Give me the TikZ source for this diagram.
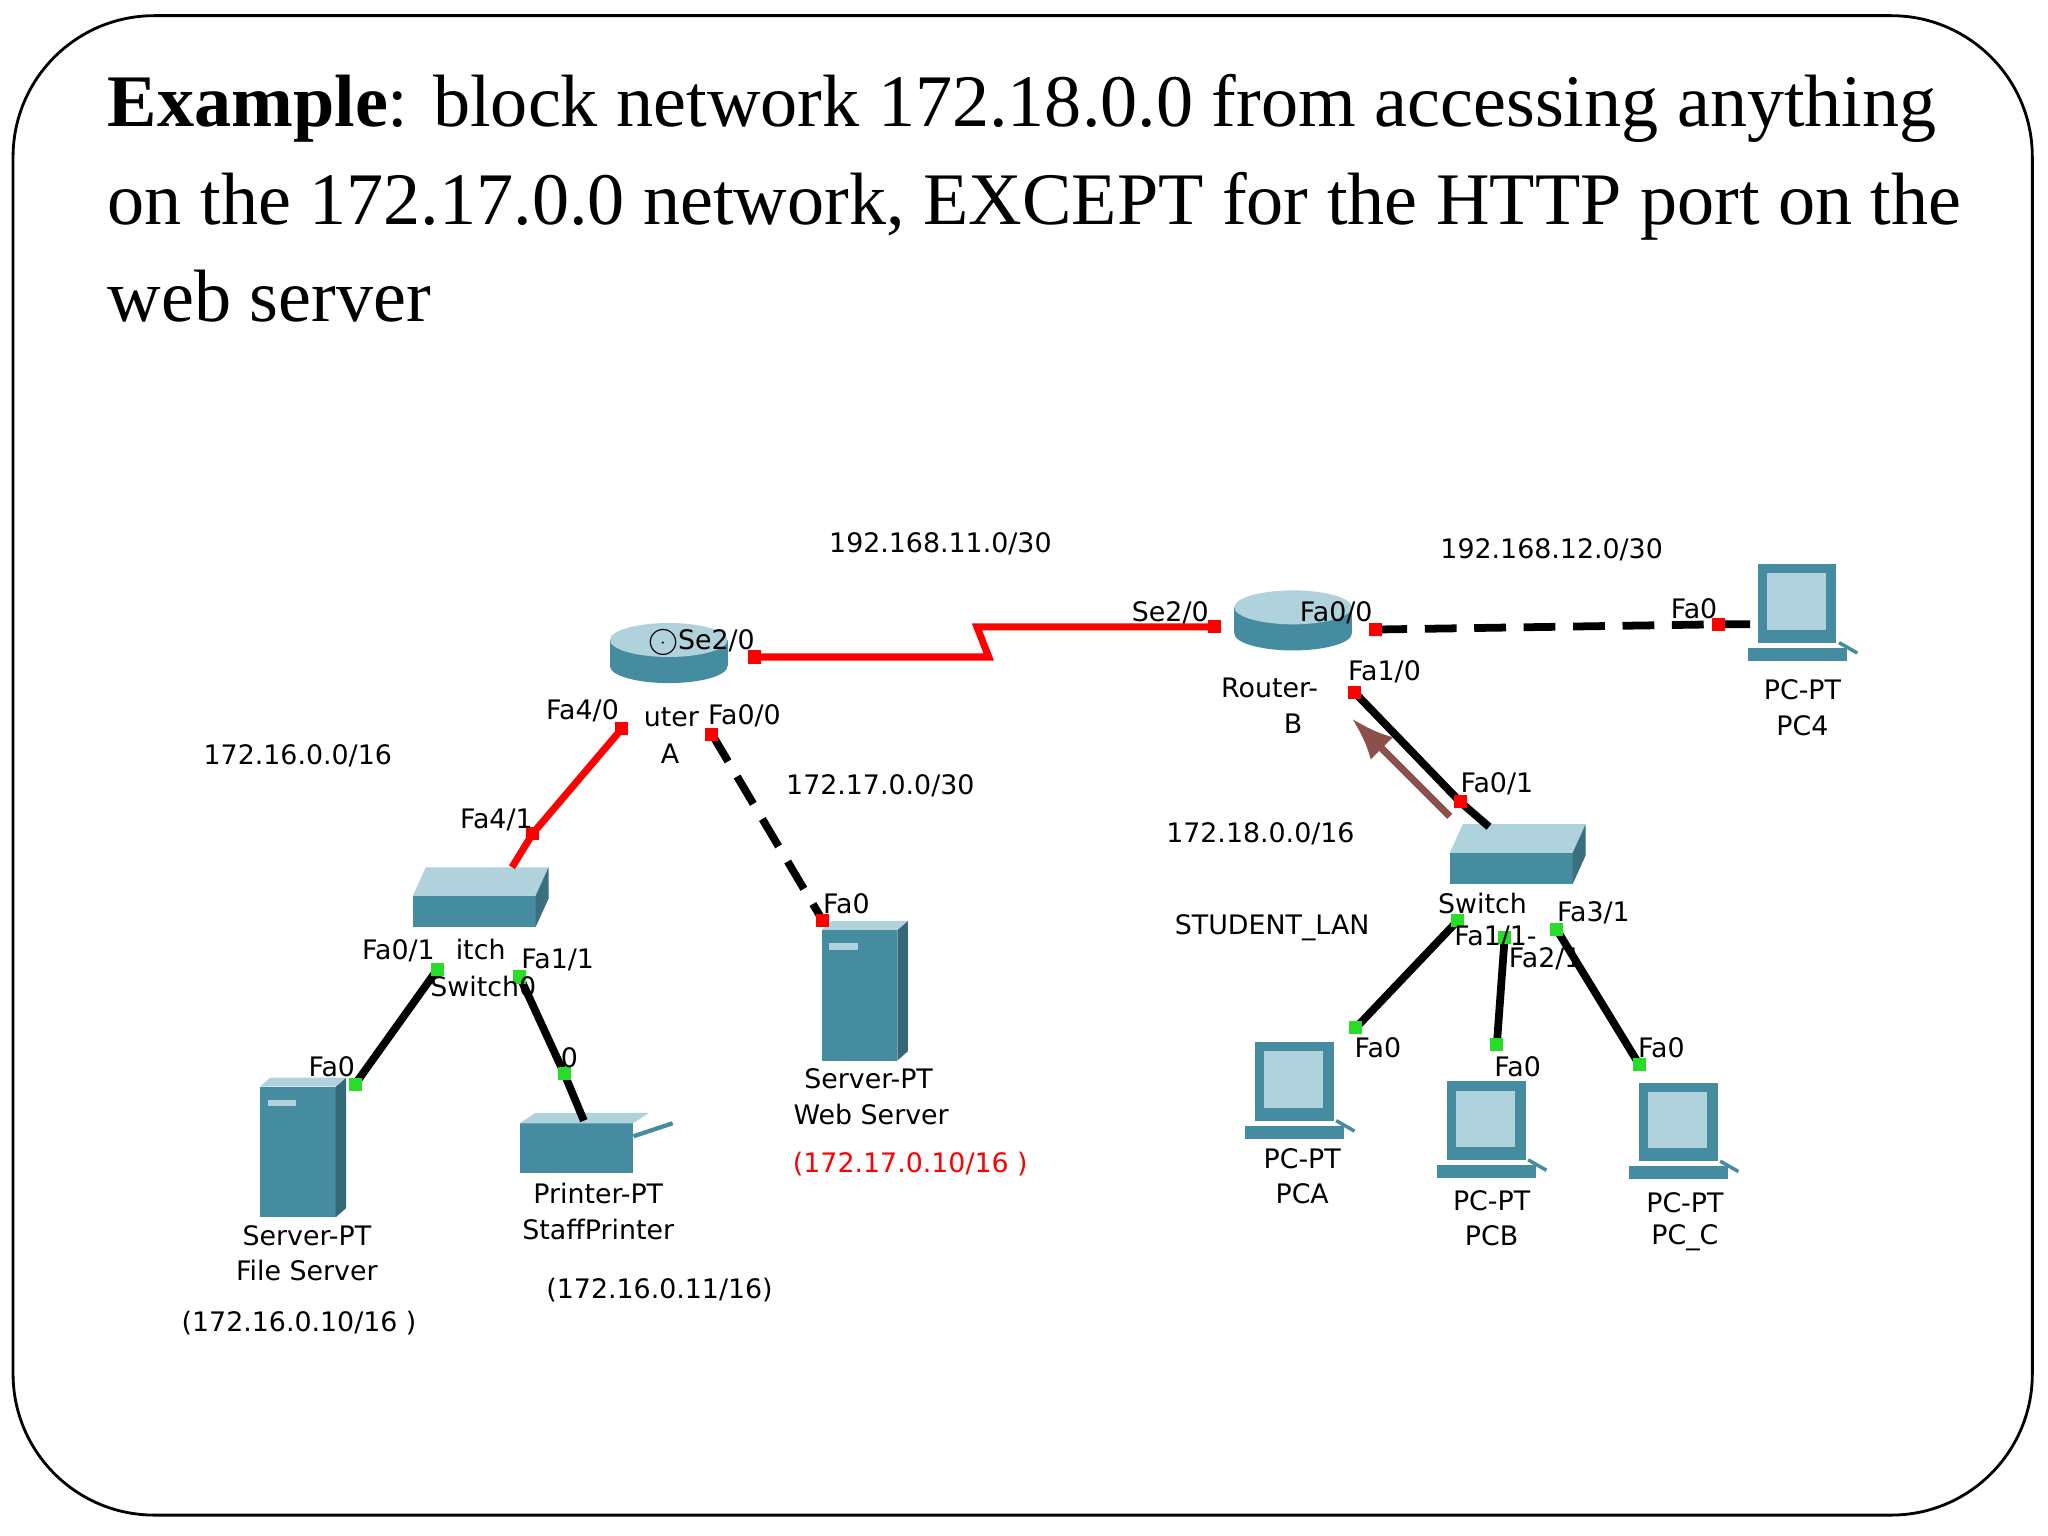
\documentclass[tikz,border=0pt]{standalone}
\usepackage{fontspec}
\setmainfont{Liberation Serif}
\newfontfamily\labfont{DejaVu Sans}
\usepackage{tikz}
\usetikzlibrary{arrows.meta,calc}

\definecolor{devteal}{RGB}{70,140,160}
\definecolor{devlight}{RGB}{175,210,220}
\definecolor{portgreen}{RGB}{40,220,40}
\definecolor{arrowbrown}{RGB}{140,80,75}

\tikzset{
  lab/.style={font=\labfont\fontsize{7.6}{9}\selectfont, inner sep=0pt},
  redlink/.style={red, line width=2pt},
  blklink/.style={black, line width=2.2pt},
  dashlink/.style={black, line width=2.2pt, dash pattern=on 9pt off 5pt},
  portred/.style={fill=red, draw=none},
  portgrn/.style={fill=portgreen, draw=none},
}

% icons
\newcommand{\routericon}[3]{% name, x, y
  \fill[devteal] (#2-45,#3) rectangle (#2+45,#3+20);
  \fill[devteal] (#2,#3+20) ellipse [x radius=45, y radius=13];
  \fill[devlight] (#2,#3) ellipse [x radius=45, y radius=13];
  \node[inner sep=0pt, minimum size=1pt] (#1) at (#2,#3+8) {};
}
\newcommand{\switchicon}[3]{%
  \fill[devlight] (#2-42,#3-22) -- (#2+52,#3-22) -- (#2+42,#3) -- (#2-52,#3) -- cycle;
  \fill[devteal] (#2-52,#3) rectangle (#2+42,#3+24);
  \fill[devteal!80!black] (#2+42,#3) -- (#2+52,#3-22) -- (#2+52,#3+2) -- (#2+42,#3+24) -- cycle;
  \node[inner sep=0pt] (#1) at (#2,#3) {};
}
\newcommand{\servericon}[3]{%
  \fill[devteal] (#2-33,#3-45) rectangle (#2+25,#3+55);
  \fill[devteal!75!black] (#2+25,#3-45) -- (#2+33,#3-52) -- (#2+33,#3+48) -- (#2+25,#3+55) -- cycle;
  \fill[devlight] (#2-33,#3-45) -- (#2-25,#3-52) -- (#2+33,#3-52) -- (#2+25,#3-45) -- cycle;
  \fill[devlight] (#2-27,#3-35) rectangle (#2-5,#3-30);
  \node[inner sep=0pt] (#1) at (#2,#3) {};
}
\newcommand{\pcicon}[3]{%
  \fill[devteal] (#2-32,#3-38) rectangle (#2+28,#3+22);
  \fill[devlight] (#2-25,#3-31) rectangle (#2+20,#3+12);
  \fill[devteal] (#2-40,#3+26) rectangle (#2+36,#3+36);
  \draw[devteal, line width=1pt] (#2+30,#3+22) -- (#2+44,#3+30);
  \node[inner sep=0pt] (#1) at (#2,#3) {};
}

\begin{document}
\begin{tikzpicture}[x=0.013cm, y=-0.013cm]
  \useasboundingbox (0,0) rectangle (1568,1176);
  \draw[line width=0.8pt, rounded corners=40] (10,12) rectangle (1556,1160);

  % title
  \node[anchor=base west, inner sep=0pt, font=\fontsize{21}{25}\selectfont] (t1) at (82,97)
    {\textbf{Example}: block network 172.18.0.0 from accessing anything};
  \node[anchor=base west, inner sep=0pt, font=\fontsize{21}{25}\selectfont] (t2) at (82,172)
    {on the 172.17.0.0 network, EXCEPT for the HTTP port on the};
  \node[anchor=base west, inner sep=0pt, font=\fontsize{21}{25}\selectfont] (t3) at (82,246)
    {web server};

  % devices
  \routericon{ra}{512}{490}
  \routericon{rb}{990}{465}
  \switchicon{sw0}{368}{686}
  \switchicon{sw1}{1162}{653}
  \servericon{web}{662}{757}
  \servericon{file}{232}{877}
  \fill[devteal] (398,860) rectangle (485,898);
  \fill[devlight] (398,860) -- (410,852) -- (497,852) -- (485,860) -- cycle;
  \draw[devteal, line width=1.2pt] (485,870) -- (515,860);
  \node[inner sep=0pt] (prn) at (450,880) {};
  \pcicon{pc4}{1378}{470}
  \pcicon{pca}{993}{836}
  \pcicon{pcb}{1140}{866}
  \pcicon{pcc}{1287}{867}

  % port points
  \coordinate (ra-se) at (578,503);
  \coordinate (ra-fa40) at (476,558);
  \coordinate (ra-fa00) at (545,562);
  \coordinate (rb-se) at (930,480);
  \coordinate (rb-fa00) at (1053,482);
  \coordinate (rb-fa10) at (1037,530);
  \coordinate (sw0-fa41) at (408,638);
  \coordinate (sw0-top) at (392,664);
  \coordinate (sw0-fa01) at (335,742);
  \coordinate (sw0-fa11) at (398,748);
  \coordinate (file-fa0) at (272,830);
  \coordinate (prn-fa0) at (432,822);
  \coordinate (web-fa0) at (630,705);
  \coordinate (pc4-fa0) at (1316,478);
  \coordinate (sw1-fa01) at (1118,614);
  \coordinate (sw1-top) at (1140,633);
  \coordinate (sw1-fa11) at (1116,705);
  \coordinate (sw1-fa21) at (1152,718);
  \coordinate (sw1-fa31) at (1192,712);
  \coordinate (pca-fa0) at (1038,787);
  \coordinate (pcb-fa0) at (1146,800);
  \coordinate (pcc-fa0) at (1255,815);

  % links
  \draw[redlink] (ra-se) -- (757,503) -- (748,480) -- (rb-se);
  \draw[redlink] (ra-fa40) -- (sw0-fa41) -- (sw0-top);
  \draw[dashlink] (ra-fa00) -- (web-fa0);
  \draw[blklink] (sw0-fa01) -- (file-fa0);
  \draw[blklink] (sw0-fa11) -- (prn-fa0) -- (447,858);
  \draw[dashlink] (rb-fa00) -- (pc4-fa0) -- (1340,478);
  \draw[blklink] (rb-fa10) -- (sw1-fa01) -- (sw1-top);
  \draw[blklink] (sw1-fa11) -- (pca-fa0);
  \draw[blklink] (sw1-fa21) -- (pcb-fa0);
  \draw[blklink] (sw1-fa31) -- (pcc-fa0);
  \draw[arrowbrown, line width=2pt, -{Latex[length=12pt,width=9pt]}] (1110,625) -- (1035,550);

  % port markers
  \foreach \p in {ra-se,ra-fa40,ra-fa00,rb-se,rb-fa00,rb-fa10,sw0-fa41,web-fa0,pc4-fa0,sw1-fa01}
    \fill[portred] ($(\p)+(-5,-5)$) rectangle ($(\p)+(5,5)$);
  \foreach \p in {sw0-fa01,sw0-fa11,file-fa0,prn-fa0,sw1-fa11,sw1-fa21,sw1-fa31,pca-fa0,pcb-fa0,pcc-fa0}
    \fill[portgrn] ($(\p)+(-5,-5)$) rectangle ($(\p)+(5,5)$);

  % network labels
  \node[lab] (n11) at (720,416) {192.168.11.0/30};
  \node[lab] (n12) at (1188,421) {192.168.12.0/30};
  \node[lab] (n16) at (228,579) {172.16.0.0/16};
  \node[lab] (n17) at (674,602) {172.17.0.0/30};
  \node[lab] (n18) at (965,638) {172.18.0.0/16};
  \node[lab] (stu) at (974,710) {STUDENT\_LAN};

  % router labels
  \node[lab] (ra-l1) at (514,549) {uter};
  \node[lab] (ra-l2) at (513,577) {A};
  \node[lab] (ra-se-l) at (537,492) {\textcircled{\tiny\raisebox{0.3pt}{$\cdot$}}Se2/0};
  \node[lab] (ra-fa40-l) at (446,544) {Fa4/0};
  \node[lab] (ra-fa00-l) at (570,548) {Fa0/0};
  \node[lab] (rb-l1) at (972,527) {Router-};
  \node[lab] (rb-l2) at (990,554) {B};
  \node[lab] (rb-se-l) at (896,469) {Se2/0};
  \node[lab] (rb-fa00-l) at (1023,469) {Fa0/0};
  \node[lab] (rb-fa10-l) at (1060,514) {Fa1/0};

  % switch0 labels
  \node[lab] (sw0-fa41-l) at (380,628) {Fa4/1};
  \node[lab] (sw0-l1) at (368,727) {itch};
  \node[lab] (sw0-l2) at (370,755) {Switch0};
  \node[lab] (sw0-fa01-l) at (305,728) {Fa0/1};
  \node[lab] (sw0-fa11-l) at (427,735) {Fa1/1};
  \node[lab] (file-fa0-l) at (254,817) {Fa0};
  \node[lab] (prn-fa0-l) at (436,810) {0};
  \node[lab] (web-fa0-l) at (648,692) {Fa0};

  % end device labels
  \node[lab] (web-l1) at (665,826) {Server-PT};
  \node[lab] (web-l2) at (667,853) {Web Server};
  \node[lab, text=red] (web-ip) at (697,891) {(172.17.0.10/16 )};
  \node[lab] (file-l1) at (235,946) {Server-PT};
  \node[lab] (file-l2) at (235,973) {File Server};
  \node[lab] (file-ip) at (229,1013) {(172.16.0.10/16 )};
  \node[lab] (prn-l1) at (458,914) {Printer-PT};
  \node[lab] (prn-l2) at (458,941) {StaffPrinter};
  \node[lab] (prn-ip) at (505,988) {(172.16.0.11/16)};
  \node[lab] (pc4-fa0-l) at (1297,466) {Fa0};
  \node[lab] (pc4-l1) at (1380,528) {PC-PT};
  \node[lab] (pc4-l2) at (1380,556) {PC4};

  % switch1 labels
  \node[lab] (sw1-fa01-l) at (1146,600) {Fa0/1};
  \node[lab] (sw1-l1) at (1135,692) {Switch};
  \node[lab] (sw1-fa11-l) at (1145,717) {Fa1/1-};
  \node[lab] (sw1-fa31-l) at (1220,699) {Fa3/1};
  \node[lab] (sw1-fa21-l) at (1183,734) {Fa2/1};
  \node[lab] (pca-fa0-l) at (1055,802) {Fa0};
  \node[lab] (pcb-fa0-l) at (1162,817) {Fa0};
  \node[lab] (pcc-fa0-l) at (1272,802) {Fa0};
  \node[lab] (pca-l1) at (997,887) {PC-PT};
  \node[lab] (pca-l2) at (997,914) {PCA};
  \node[lab] (pcb-l1) at (1142,919) {PC-PT};
  \node[lab] (pcb-l2) at (1142,946) {PCB};
  \node[lab] (pcc-l1) at (1290,921) {PC-PT};
  \node[lab] (pcc-l2) at (1290,948) {PC\_C};
\end{tikzpicture}
\end{document}
